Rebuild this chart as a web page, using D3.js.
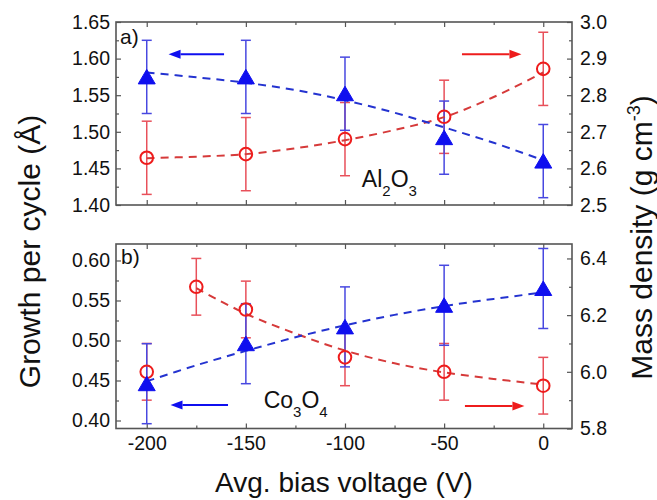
<!DOCTYPE html>
<html>
<head>
<meta charset="utf-8">
<script src="https://cdn.jsdelivr.net/npm/d3@7"></script>
<style>
  body { margin: 0; background: #fff; }
  svg text { font-family: "Liberation Sans", Arial, Helvetica, sans-serif; fill: #111; }
</style>
</head>
<body>
<svg id="chart" width="657" height="500"></svg>
<script>
// ---- data -------------------------------------------------------------
const biasVoltage = [-200, -150, -100, -50, 0];
const fitVoltage  = [-200, -175, -150, -125, -100, -75, -50, -25, 0];

// a) Al2O3
const alGpc        = [1.575, 1.575, 1.552, 1.492, 1.460];
const alGpcErr     = [0.05, 0.05, 0.05, 0.05, 0.05];
const alDensity    = [2.629, 2.639, 2.680, 2.741, 2.872];
const alDensityErr = [0.10, 0.10, 0.10, 0.10, 0.10];
const alGpcFit     = [1.581, 1.5745, 1.567, 1.557, 1.543, 1.526, 1.506, 1.485, 1.461];
const alDensityFit = [2.628, 2.632, 2.639, 2.655, 2.677, 2.705, 2.740, 2.795, 2.862];

// b) Co3O4
const coGpc            = [0.446, 0.496, 0.517, 0.544, 0.565];
const coGpcErr         = [0.05, 0.05, 0.05, 0.05, 0.05];
const coDensityVoltage = [-200, -175, -150, -100, -50, 0];
const coDensity        = [6.000, 6.300, 6.220, 6.051, 6.000, 5.951];
const coDensityErr     = [0.10, 0.10, 0.10, 0.10, 0.10, 0.10];
const coFitVoltage     = [-175, -150, -125, -100, -75, -50, -25, 0];
const coGpcFit         = [0.449, 0.469, 0.487, 0.504, 0.519, 0.532, 0.543, 0.552, 0.560];
const coDensityFit     = [6.295, 6.205, 6.135, 6.075, 6.030, 5.998, 5.975, 5.955];

// axis tick values
const xTicks       = [-200, -150, -100, -50, 0];
const xMinorTicks  = [-175, -125, -75, -25];
const alGpcTicks   = [1.40, 1.45, 1.50, 1.55, 1.60, 1.65];
const alDenTicks   = [2.5, 2.6, 2.7, 2.8, 2.9, 3.0];
const coGpcTicks   = [0.40, 0.45, 0.50, 0.55, 0.60];
const coDenTicks   = [5.8, 6.0, 6.2, 6.4];

// ---- layout -----------------------------------------------------------
const svg = d3.select("#chart");
const L = 116, R = 572;
const panels = {
  a: { top: 22,  bottom: 205 },
  b: { top: 244, bottom: 428.5 }
};
const BLUE = "#0f0fef", BLUE_ERR = "#4848e0", BLUE_FIT = "#2433d0";
const RED = "#ee1c1c", RED_ERR = "#e8505a", RED_FIT = "#d63a3a";
const FRAME = "#555";

const x = d3.scaleLinear().domain([-215.5, 14.5]).range([L, R]);

const yA  = d3.scaleLinear().domain([1.40, 1.65]).range([panels.a.bottom, panels.a.top]);
const yA2 = d3.scaleLinear().domain([2.5, 3.0]).range([panels.a.bottom, panels.a.top]);
const yB  = d3.scaleLinear().domain([0.39, 0.6206]).range([panels.b.bottom, panels.b.top]);
const yB2 = d3.scaleLinear().domain([5.8, 6.451]).range([panels.b.bottom, panels.b.top]);

function minorBetween(ticks, step) {
  const out = [];
  for (let i = 0; i < ticks.length; i++) out.push(+(ticks[i] + step / 2).toFixed(4));
  return out;
}

function styleAxis(g) {
  g.select(".domain").remove();
  g.selectAll("line").attr("stroke", FRAME).attr("stroke-width", 1.2);
  g.selectAll("text").attr("font-size", 19.5).attr("fill", "#111");
}

function drawPanel(p, yL, yR, leftTicks, leftStep, leftFmt, rightTicks, rightStep, rightFmt, showX) {
  const g = svg.append("g");
  // x axes (bottom and top), ticks pointing inward
  const xb = g.append("g").attr("transform", `translate(0,${p.bottom})`)
    .call(d3.axisBottom(x).tickValues(xTicks).tickSize(-5).tickPadding(8)
      .tickFormat(showX ? (d => String(d)) : () => ""));
  styleAxis(xb);
  styleAxis(g.append("g").attr("transform", `translate(0,${p.bottom})`)
    .call(d3.axisBottom(x).tickValues(xMinorTicks).tickSize(-3).tickFormat(() => "")));
  styleAxis(g.append("g").attr("transform", `translate(0,${p.top})`)
    .call(d3.axisTop(x).tickValues(xTicks).tickSize(-5).tickFormat(() => "")));
  styleAxis(g.append("g").attr("transform", `translate(0,${p.top})`)
    .call(d3.axisTop(x).tickValues(xMinorTicks).tickSize(-3).tickFormat(() => "")));

  // left axis
  styleAxis(g.append("g").attr("transform", `translate(${L},0)`)
    .call(d3.axisLeft(yL).tickValues(leftTicks).tickSize(-5).tickPadding(6).tickFormat(d3.format(leftFmt))));
  styleAxis(g.append("g").attr("transform", `translate(${L},0)`)
    .call(d3.axisLeft(yL).tickValues(minorBetween(leftTicks, leftStep).filter(v => yL(v) > p.top)).tickSize(-3).tickFormat(() => "")));
  // right axis
  styleAxis(g.append("g").attr("transform", `translate(${R},0)`)
    .call(d3.axisRight(yR).tickValues(rightTicks).tickSize(-5).tickPadding(8).tickFormat(d3.format(rightFmt))));
  styleAxis(g.append("g").attr("transform", `translate(${R},0)`)
    .call(d3.axisRight(yR).tickValues(minorBetween(rightTicks, rightStep).filter(v => yR(v) > p.top)).tickSize(-3).tickFormat(() => "")));

  // frame
  g.append("rect").attr("x", L).attr("y", p.top).attr("width", R - L).attr("height", p.bottom - p.top)
    .attr("fill", "none").attr("stroke", FRAME).attr("stroke-width", 1.6);
  return g;
}

drawPanel(panels.a, yA, yA2, alGpcTicks, 0.05, ".2f", alDenTicks, 0.1, ".1f", false);
drawPanel(panels.b, yB, yB2, coGpcTicks, 0.05, ".2f", coDenTicks, 0.2, ".1f", true);

// ---- marks ------------------------------------------------------------
const plot = svg.append("g");

function errorBars(xs, ys, errs, y, color) {
  const cap = 5;
  const g = plot.append("g").attr("stroke", color).attr("stroke-width", 1.5).attr("fill", "none");
  xs.forEach((xv, i) => {
    const cx = x(xv), t = y(ys[i] + errs[i]), b = y(ys[i] - errs[i]);
    g.append("line").attr("x1", cx).attr("x2", cx).attr("y1", t).attr("y2", b);
    g.append("line").attr("x1", cx - cap).attr("x2", cx + cap).attr("y1", t).attr("y2", t);
    g.append("line").attr("x1", cx - cap).attr("x2", cx + cap).attr("y1", b).attr("y2", b);
  });
}

function fitLine(xs, ys, y, color) {
  const line = d3.line().x((d, i) => x(xs[i])).y(d => y(d)).curve(d3.curveCatmullRom);
  plot.append("path").datum(ys).attr("d", line)
    .attr("fill", "none").attr("stroke", color).attr("stroke-width", 2)
    .attr("stroke-dasharray", "8,6");
}

function triangles(xs, ys, y) {
  plot.append("g").selectAll("path").data(ys).join("path")
    .attr("transform", (d, i) => `translate(${x(xs[i])},${y(d)})`)
    .attr("d", "M0,-7.5L8.5,7L-8.5,7Z")
    .attr("fill", BLUE).attr("stroke", BLUE).attr("stroke-width", 1);
}

function circles(xs, ys, y) {
  plot.append("g").selectAll("circle").data(ys).join("circle")
    .attr("cx", (d, i) => x(xs[i])).attr("cy", d => y(d)).attr("r", 6.3)
    .attr("fill", "none").attr("stroke", RED).attr("stroke-width", 2);
}

// a) Al2O3
errorBars(biasVoltage, alDensity, alDensityErr, yA2, RED_ERR);
errorBars(biasVoltage, alGpc, alGpcErr, yA, BLUE_ERR);
fitLine(fitVoltage, alDensityFit, yA2, RED_FIT);
fitLine(fitVoltage, alGpcFit, yA, BLUE_FIT);
circles(biasVoltage, alDensity, yA2);
triangles(biasVoltage, alGpc, yA);

// b) Co3O4
errorBars(coDensityVoltage, coDensity, coDensityErr, yB2, RED_ERR);
errorBars(biasVoltage, coGpc, coGpcErr, yB, BLUE_ERR);
fitLine(coFitVoltage, coDensityFit, yB2, RED_FIT);
fitLine(fitVoltage, coGpcFit, yB, BLUE_FIT);
circles(coDensityVoltage, coDensity, yB2);
triangles(biasVoltage, coGpc, yB);

// ---- arrows pointing to the axis each series belongs to ---------------
const arrows = [
  { from: -161, to: -189, v: 1.606, y: yA,  color: BLUE },
  { from: -41,  to: -11,  v: 2.912, y: yA2, color: RED },
  { from: -159, to: -188, v: 0.4195, y: yB, color: BLUE },
  { from: -39.5, to: -9.5, v: 5.879, y: yB2, color: RED }
];
arrows.forEach(a => {
  const x0 = x(a.from), x1 = x(a.to), yy = a.y(a.v);
  const dir = Math.sign(x1 - x0), head = 12;
  svg.append("line").attr("x1", x0).attr("x2", x1 - dir * head).attr("y1", yy).attr("y2", yy)
    .attr("stroke", a.color).attr("stroke-width", 2);
  svg.append("path")
    .attr("d", `M${x1},${yy}L${x1 - dir * head},${yy - 4.5}L${x1 - dir * head},${yy + 4.5}Z`)
    .attr("fill", a.color);
});

// ---- panel labels -----------------------------------------------------
svg.append("text").attr("x", 120).attr("y", 43.5).attr("font-size", 21).text("a)");
svg.append("text").attr("x", 121).attr("y", 264).attr("font-size", 21).text("b)");

function formula(xv, yv, parts) {
  const t = svg.append("text").attr("x", x(xv)).attr("y", yv).attr("font-size", 23);
  let sub = false;
  parts.forEach(([s, isSub]) => {
    const ts = t.append("tspan").text(s);
    if (isSub) ts.attr("font-size", 15);
    if (isSub && !sub) ts.attr("dy", 9);
    else if (!isSub && sub) ts.attr("dy", -9);
    sub = isSub;
  });
}
formula(-91.5, 187, [["Al", false], ["2", true], ["O", false], ["3", true]]);
formula(-141, 407.5, [["Co", false], ["3", true], ["O", false], ["4", true]]);

// ---- axis titles ------------------------------------------------------
svg.append("text").attr("x", (L + R) / 2).attr("y", 492).attr("text-anchor", "middle")
  .attr("font-size", 28).text("Avg. bias voltage (V)");

svg.append("text").attr("transform", "translate(39.5,251.5) rotate(-90)")
  .attr("text-anchor", "middle").attr("font-size", 30).text("Growth per cycle (Å)");

const rt = svg.append("text").attr("transform", "translate(652,237.5) rotate(-90)")
  .attr("text-anchor", "middle").attr("font-size", 30);
rt.append("tspan").text("Mass density (g cm");
rt.append("tspan").attr("font-size", 18).attr("dy", -12).text("-3");
rt.append("tspan").attr("dy", 12).text(")");
</script>
</body>
</html>
